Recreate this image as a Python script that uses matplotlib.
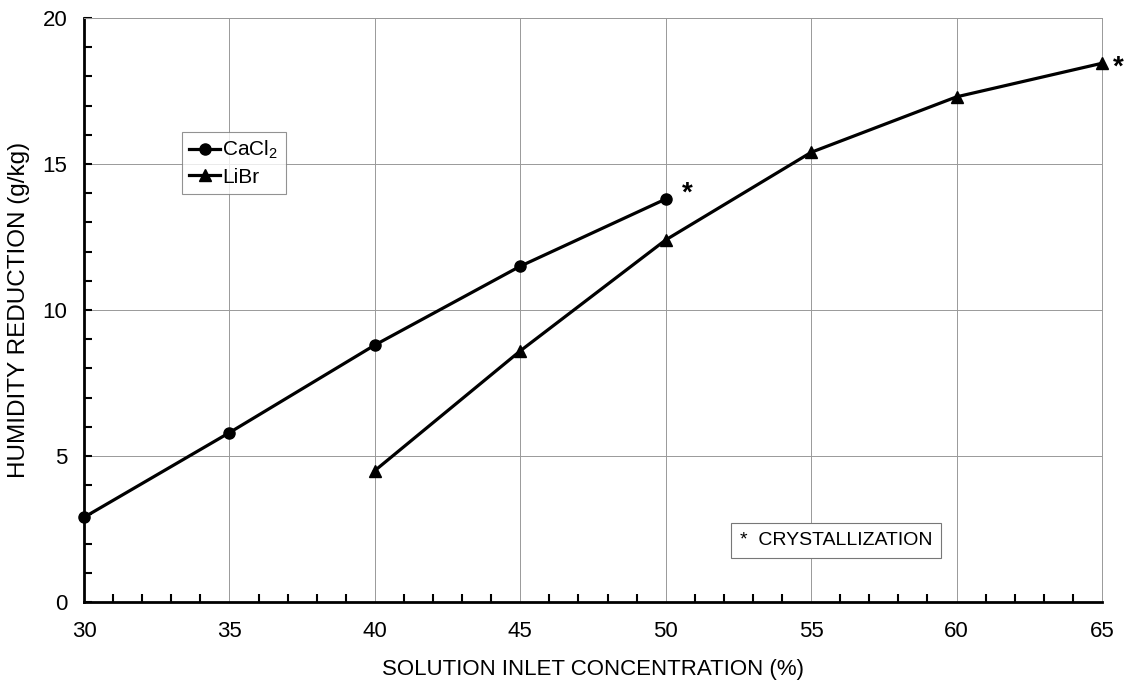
import matplotlib
matplotlib.use('Agg')
import matplotlib.pyplot as plt
from matplotlib.ticker import MultipleLocator

# data
cacl2_conc = [30, 35, 40, 45, 50]
cacl2_dw = [2.9, 5.8, 8.8, 11.5, 13.8]
libr_conc = [40, 45, 50, 55, 60, 65]
libr_dw = [4.5, 8.6, 12.4, 15.4, 17.3, 18.45]

plt.rcParams['font.family'] = ['Liberation Sans', 'DejaVu Sans']
plt.rcParams['mathtext.fontset'] = 'custom'
plt.rcParams['mathtext.rm'] = 'Liberation Sans'
plt.rcParams['mathtext.it'] = 'Liberation Sans'

fig = plt.figure(figsize=(11.25, 6.81), dpi=100)
ax = fig.add_axes([84 / 1125, 1 - 602 / 681, 1018 / 1125, 584 / 681])

ax.plot(cacl2_conc, cacl2_dw, color='black', lw=2.3, marker='o', ms=8,
        label='CaCl$_2$', clip_on=False, zorder=3)
ax.plot(libr_conc, libr_dw, color='black', lw=2.3, marker='^', ms=8,
        label='LiBr', clip_on=False, zorder=3)

ax.set_xlim(30, 65)
ax.set_ylim(0, 20)
ax.xaxis.set_major_locator(MultipleLocator(5))
ax.xaxis.set_minor_locator(MultipleLocator(1))
ax.yaxis.set_major_locator(MultipleLocator(5))
ax.yaxis.set_minor_locator(MultipleLocator(1))
ax.tick_params(which='both', direction='in', length=6, width=1.5,
               labelsize=16, top=False, right=False)
ax.tick_params(axis='x', which='major', length=0, pad=14)
ax.tick_params(axis='y', which='major', pad=12)
ax.grid(which='major', color='#999999', lw=0.7)

for side in ['top', 'right']:
    ax.spines[side].set_color('#999999')
    ax.spines[side].set_linewidth(0.7)
for side in ['left', 'bottom']:
    ax.spines[side].set_linewidth(2)

ax.set_xlabel('SOLUTION INLET CONCENTRATION (%)', fontsize=16, labelpad=12)
ax.set_ylabel('HUMIDITY REDUCTION (g/kg)', fontsize=17.5, labelpad=9)

leg = ax.legend(loc='upper left', bbox_to_anchor=(0.096, 0.805), fontsize=15,
                frameon=True, fancybox=False, edgecolor='#777777',
                handlelength=1.5, handletextpad=0.1, borderpad=0.35,
                labelspacing=0.3, borderaxespad=0)
leg.get_frame().set_linewidth(0.8)

# crystallization markers
ax.text(50.75, 14.0, '*', fontsize=20, fontweight='bold', ha='center', va='center')
ax.text(65.55, 18.3, '*', fontsize=20, fontweight='bold', ha='center', va='center',
        clip_on=False)
ax.text(52.55, 2.1, '*  CRYSTALLIZATION', fontsize=14, ha='left', va='center',
        bbox=dict(boxstyle='square,pad=0.45', fc='white', ec='#777777', lw=0.8))

fig.savefig('out.png', dpi=100)
